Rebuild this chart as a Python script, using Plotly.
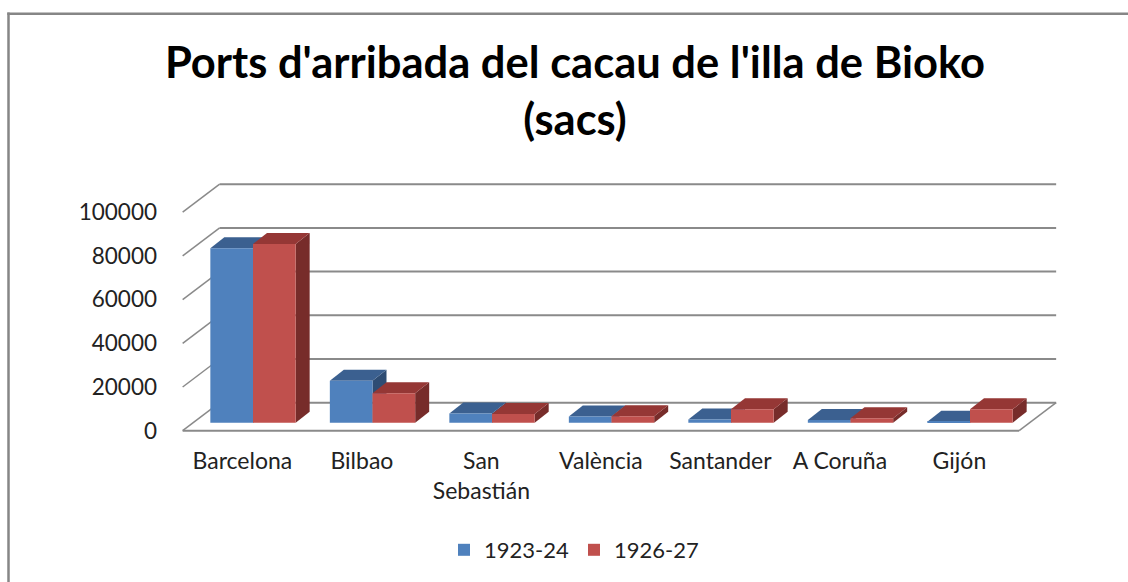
import plotly.graph_objects as go

# ---------------- data ----------------
categories = ["Barcelona", "Bilbao", "San Sebastián", "València", "Santander", "A Coruña", "Gijón"]
tick_labels = ["Barcelona", "Bilbao", "San<br>Sebastián", "València", "Santander", "A Coruña", "Gijón"]
series_names = ["1923-24", "1926-27"]
values_1923 = [79800, 19200, 4200, 2800, 1500, 1200, 400]
values_1926 = [81800, 13500, 4000, 3000, 6100, 2000, 6100]
y_ticks = [0, 20000, 40000, 60000, 80000, 100000]

# ---------------- geometry (pixels -> data units) ----------------
W, H = 1128, 582
L, R, T, B = 172, 1075, 170, 445          # plot-area box in pixels
KX = 119.5                                 # px per category
KY = 43.7 / 20000                          # px per value unit
CX0 = 253.0                                # px of category 0 centre (bar plane)
Y0 = 422.7                                 # px of value 0 (bar plane)

xr = [(L - CX0) / KX, (R - CX0) / KX]
yr = [-(B - Y0) / KY, (Y0 - T) / KY]

def dxp(px):
    return px / KX

def dyp(px):
    return px / KY

FRONT_DX, FRONT_DY = dxp(-10.6), dyp(-8)
BACK_DX, BACK_DY = dxp(26.4), dyp(20)
BAR_DX, BAR_DY = dxp(14), dyp(11)
BW = 0.357

n = len(categories)
XL, XR = -0.5, n - 0.5

grid_col = "#8a8a8a"
colors = {
    "1923-24": ("#4F81BD", "#3B6090", "#2E4C73"),
    "1926-27": ("#C0504D", "#953735", "#772C2A"),
}

shapes = []
for v in y_ticks:
    # back wall gridlines
    shapes.append(dict(type="line", xref="x", yref="y", layer="below",
                       x0=XL + BACK_DX, x1=XR + BACK_DX, y0=v + BACK_DY, y1=v + BACK_DY,
                       line=dict(color=grid_col, width=2)))
    # side wall lines
    shapes.append(dict(type="line", xref="x", yref="y", layer="below",
                       x0=XL + FRONT_DX, x1=XL + BACK_DX, y0=v + FRONT_DY, y1=v + BACK_DY,
                       line=dict(color=grid_col, width=1.5)))
# floor front edge and right edge
shapes.append(dict(type="line", xref="x", yref="y", layer="below",
                   x0=XL + FRONT_DX, x1=XR + FRONT_DX, y0=FRONT_DY, y1=FRONT_DY,
                   line=dict(color=grid_col, width=2)))
shapes.append(dict(type="line", xref="x", yref="y", layer="below",
                   x0=XR + FRONT_DX, x1=XR + BACK_DX, y0=FRONT_DY, y1=BACK_DY,
                   line=dict(color=grid_col, width=1.5)))

def faces(vals, offset, name):
    _, top_c, side_c = colors[name]
    out = []
    for i, v in enumerate(vals):
        x0 = i + offset
        x1 = x0 + BW
        top = (f"M {x0},{v} L {x0 + BAR_DX},{v + BAR_DY} "
               f"L {x1 + BAR_DX},{v + BAR_DY} L {x1},{v} Z")
        side = (f"M {x1},0 L {x1},{v} L {x1 + BAR_DX},{v + BAR_DY} "
                f"L {x1 + BAR_DX},{BAR_DY} Z")
        out.append(dict(type="path", xref="x", yref="y", layer="below", path=side,
                        fillcolor=side_c, line=dict(width=0)))
        out.append(dict(type="path", xref="x", yref="y", layer="below", path=top,
                        fillcolor=top_c, line=dict(width=0)))
    return out

shapes += faces(values_1923, -BW, "1923-24")
shapes += faces(values_1926, 0, "1926-27")

# outer chart border (top and left edges; the rest lies outside the picture)
PW, PH = R - L, B - T
def px_x(px):
    return (px - L) / PW

def px_y(py):
    return (B - py) / PH

border = dict(color="#868686", width=2.5)
shapes.append(dict(type="line", xref="paper", yref="paper", layer="above",
                   x0=px_x(7.3), x1=px_x(1200), y0=px_y(13.8), y1=px_y(13.8), line=border))
shapes.append(dict(type="line", xref="paper", yref="paper", layer="above",
                   x0=px_x(8.5), x1=px_x(8.5), y0=px_y(12.6), y1=px_y(700), line=border))

fig = go.Figure()
fig.add_trace(go.Bar(name=series_names[0], x=list(range(n)), y=values_1923,
                     width=BW, offset=-BW, marker=dict(color=colors["1923-24"][0], line=dict(width=0))))
fig.add_trace(go.Bar(name=series_names[1], x=list(range(n)), y=values_1926,
                     width=BW, offset=0, marker=dict(color=colors["1926-27"][0], line=dict(width=0))))

font_family = "Lato, 'Open Sans', sans-serif"
fig.update_layout(
    width=W, height=H, autosize=False,
    margin=dict(l=L, r=W - R, t=T, b=H - B, pad=0, autoexpand=False),
    paper_bgcolor="white", plot_bgcolor="white",
    barmode="overlay",
    shapes=shapes,
    title=dict(text="<b>Ports d'arribada del cacau de l'illa de Bioko<br>(sacs)</b>",
               x=575 / W, xanchor="center", xref="container",
               y=1 - 78 / H, yanchor="top", yref="container",
               font=dict(family=font_family, size=43.5, color="#000000")),
    xaxis=dict(range=xr, tickmode="array",
               tickvals=[i + FRONT_DX for i in range(n)], ticktext=tick_labels,
               showgrid=False, zeroline=False, showline=False, ticks="",
               ticklabelstandoff=0,
               tickfont=dict(family=font_family, size=23, color="#222222")),
    yaxis=dict(range=yr, tickmode="array",
               tickvals=[v + FRONT_DY for v in y_ticks], ticktext=[str(v) for v in y_ticks],
               showgrid=False, zeroline=False, showline=False, ticks="",
               ticklabelstandoff=14,
               tickfont=dict(family=font_family, size=22.5, color="#222222")),
    legend=dict(orientation="h", x=px_x(574), xanchor="center", y=px_y(550), yanchor="middle",
                font=dict(family=font_family, size=22, color="#222222"),
                bgcolor="rgba(0,0,0,0)"),
    showlegend=True,
)

fig.write_html(
    "out.html",
    config={"displayModeBar": False},
    post_script="document.body.style.margin='0';document.body.style.overflow='hidden';",
)
